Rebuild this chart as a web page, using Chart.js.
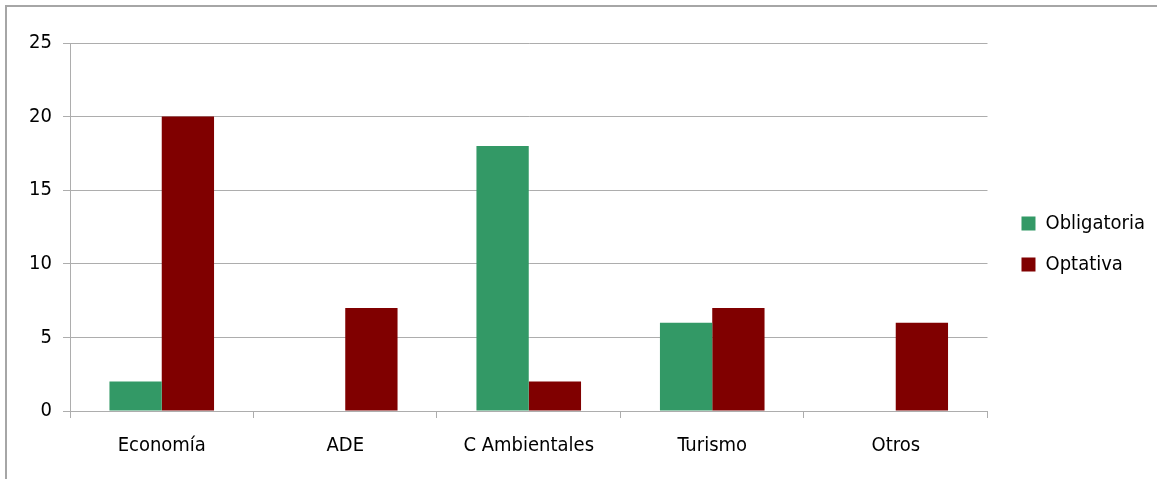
<!DOCTYPE html>
<html>
<head>
<meta charset="utf-8">
<script src="https://cdn.jsdelivr.net/npm/chart.js@4"></script>
<style>
  html, body { margin: 0; padding: 0; background: #fff; }
  #wrap { position: relative; width: 1157px; height: 479px; }
  #frame { position: absolute; left: 5px; top: 5px; right: -10px; bottom: -10px;
           border-left: 2px solid #a6a6a6; border-top: 2px solid #a6a6a6; pointer-events: none; }
</style>
</head>
<body>
<div id="wrap">
  <canvas id="myChart" width="1157" height="479"></canvas>
  <div id="frame"></div>
</div>
<script>
const categories = ['Economía', 'ADE', 'C Ambientales', 'Turismo', 'Otros'];
const obligatoria = [2, 0, 18, 6, 0];
const optativa = [20, 7, 2, 7, 6];
const yTicks = [0, 5, 10, 15, 20, 25];

const FONT = "'DejaVu Sans Condensed', 'DejaVu Sans', sans-serif";
const GRID = '#adadad';

// nudge the legend to where it sits in the original
const legendShift = {
  id: 'legendShift',
  afterLayout(chart) {
    const lg = chart.legend;
    if (!lg) return;
    lg.left += 13; lg.right += 13;
    lg.top -= 17; lg.bottom -= 17;
  }
};

const setup = () => {
  const context = document.getElementById('myChart').getContext('2d');

  new Chart(context, {
    type: 'bar',
    data: {
      labels: categories,
      datasets: [
        { label: 'Obligatoria', data: obligatoria, backgroundColor: '#339966', borderWidth: 0 },
        { label: 'Optativa', data: optativa, backgroundColor: '#800000', borderWidth: 0 }
      ]
    },
    options: {
      responsive: false,
      animation: false,
      datasets: { bar: { categoryPercentage: 0.57, barPercentage: 1 } },
      layout: { padding: { top: 43, left: 0, right: 15, bottom: 0 } },
      plugins: {
        tooltip: { enabled: false },
        legend: {
          position: 'right',
          labels: {
            color: '#000',
            font: { family: FONT, size: 20 },
            boxWidth: 14,
            boxHeight: 14,
            padding: 21
          }
        }
      },
      scales: {
        x: {
          grid: { offset: true, drawOnChartArea: false, color: GRID, tickLength: 7 },
          border: { color: GRID, width: 1 },
          ticks: { color: '#000', font: { family: FONT, size: 20 }, padding: 16, maxRotation: 0 },
          afterFit: s => { s.height = 68; }
        },
        y: {
          min: 0,
          max: 25,
          afterBuildTicks: s => { s.ticks = yTicks.map(v => ({ value: v })); },
          grid: { color: GRID, tickLength: 7 },
          border: { color: GRID, width: 1 },
          ticks: { color: '#000', font: { family: FONT, size: 20 }, padding: 11 },
          afterFit: s => { s.width = 70; }
        }
      }
    },
    plugins: [legendShift]
  });
};

window.addEventListener('DOMContentLoaded', setup);
</script>
</body>
</html>
